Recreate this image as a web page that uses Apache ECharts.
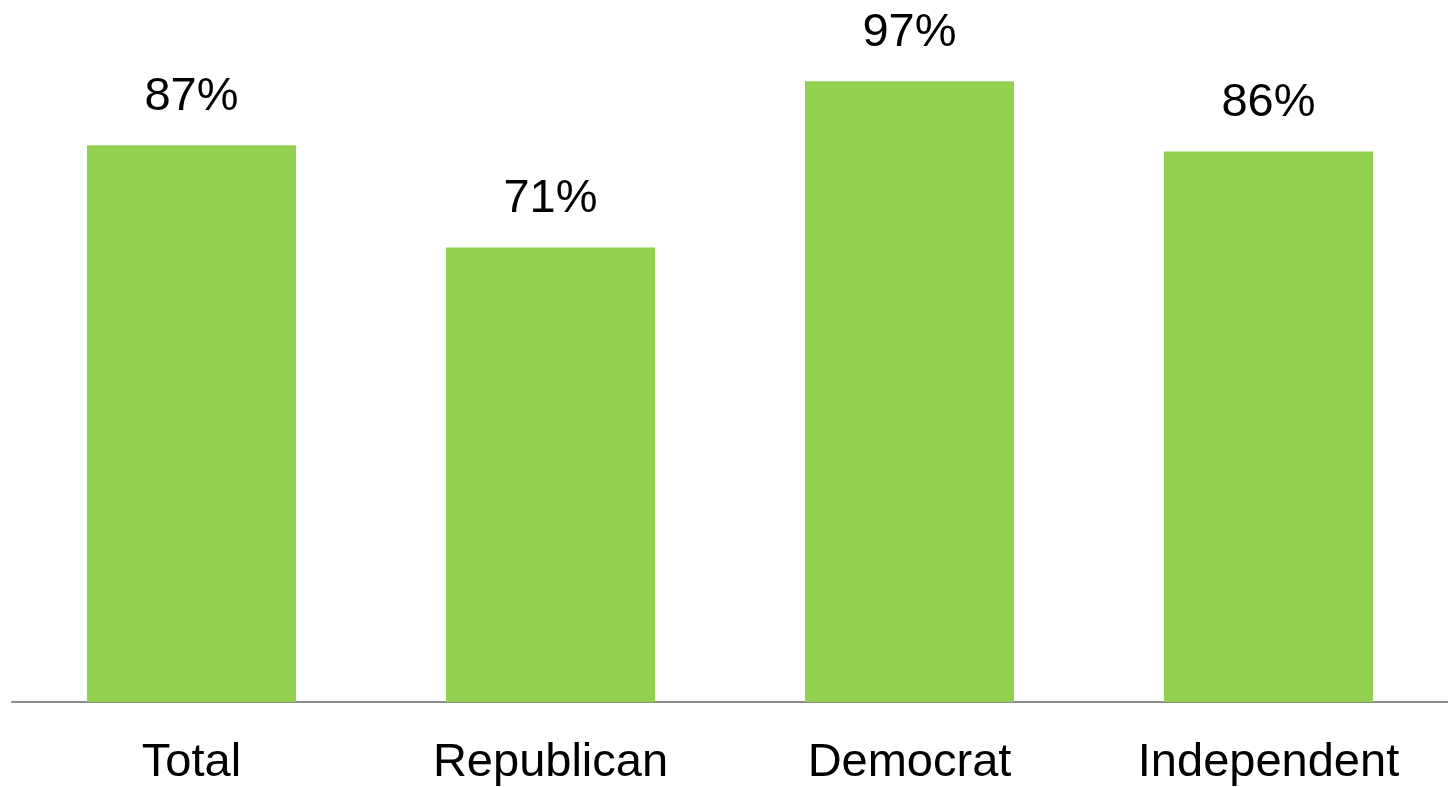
<!DOCTYPE html>
<html>
<head>
<meta charset="utf-8">
<script src="https://cdn.jsdelivr.net/npm/echarts@6/dist/echarts.min.js"></script>
<style>
html,body{margin:0;padding:0;background:#fff;}
#chart{width:1448px;height:787px;}
</style>
</head>
<body>
<div id="chart"></div>
<script>
const categories = ["Total", "Republican", "Democrat", "Independent"];
const values = [87, 71, 97, 86];

const chart = echarts.init(document.getElementById('chart'));
chart.setOption({
  animation: false,
  grid: {left: 12, right: 0, top: 62, bottom: 82, containLabel: false},
  xAxis: {
    type: 'category',
    data: categories,
    axisLine: {lineStyle: {color: '#8c8c8c', width: 2}},
    axisTick: {show: false},
    axisLabel: {color: '#000', fontSize: 47, fontFamily: '"Liberation Sans", Arial, sans-serif', margin: 38}
  },
  yAxis: {
    type: 'value', min: 0, max: 100, show: false,
    splitLine: {show: false}
  },
  series: [{
    type: 'bar',
    data: values,
    barWidth: 209,
    itemStyle: {color: '#92D050'},
    label: {
      show: true, position: 'top', distance: 25,
      formatter: '{c}%', color: '#000', fontSize: 47,
      fontFamily: '"Liberation Sans", Arial, sans-serif'
    }
  }]
});
</script>
</body>
</html>
